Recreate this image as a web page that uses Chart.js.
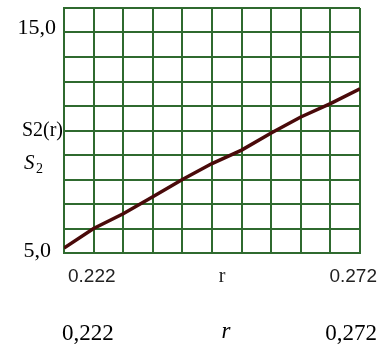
<!DOCTYPE html>
<html>
<head>
<meta charset="utf-8">
<script src="https://cdn.jsdelivr.net/npm/chart.js@4"></script>
<style>
  html, body { margin: 0; padding: 0; background: #fff; }
  #wrap { width: 379px; height: 349px; }
</style>
</head>
<body>
<div id="wrap"><canvas id="s2Chart" width="379" height="349"></canvas></div>
<script>
// Datos: S2 en función de r
const rValues = [0.222, 0.227, 0.232, 0.237, 0.242, 0.247, 0.252, 0.257, 0.262, 0.267, 0.272];
const s2Values = [5.2, 6.0, 6.6, 7.3, 8.0, 8.65, 9.2, 9.9, 10.55, 11.1, 11.7];

// Límites y rótulos de los ejes
const X_MIN = 0.222, X_MAX = 0.272, X_STEP = 0.005;
const Y_MIN = 5, Y_MAX = 15, Y_STEP = 1;
const yTickLabels = ['15,0', '5,0'];
const xTickLabels = ['0.222', '0.272'];
const xTickLabelsComma = ['0,222', '0,272'];

const GRID_COLOR = '#2f6a2f';
const LINE_COLOR = '#4a0a0a';

// Textos alrededor del área del gráfico
const labelsPlugin = {
    id: 'mathcadLabels',
    afterDraw(chart) {
        const ctx = chart.ctx;
        const x = chart.scales.x;
        const y = chart.scales.y;
        const left = x.getPixelForValue(X_MIN);
        const right = x.getPixelForValue(X_MAX);
        const top = y.getPixelForValue(Y_MAX);
        const bottom = y.getPixelForValue(Y_MIN);
        const mid = (left + right) / 2;

        ctx.save();
        ctx.fillStyle = '#000';
        ctx.textBaseline = 'middle';

        // Eje vertical
        ctx.font = '22px "Liberation Serif"';
        ctx.textAlign = 'right';
        ctx.fillText(yTickLabels[0], left - 8, top + 20);
        ctx.fillText(yTickLabels[1], left - 13, bottom - 2);

        ctx.font = '20px "Liberation Serif"';
        ctx.fillText('S2(r)', left - 1, top + 123);
        ctx.font = 'italic 21px "Liberation Serif"';
        ctx.textAlign = 'left';
        ctx.fillText('S', left - 40, top + 155);
        ctx.font = '14px "Liberation Serif"';
        ctx.fillText('2', left - 28, top + 161);

        // Rótulos del eje horizontal (primera fila)
        ctx.fillStyle = '#222';
        ctx.font = '19px "Liberation Sans"';
        ctx.textAlign = 'left';
        ctx.fillText(xTickLabels[0], left + 4, bottom + 24);
        ctx.textAlign = 'right';
        ctx.fillText(xTickLabels[1], right + 17, bottom + 24);
        ctx.textAlign = 'center';
        ctx.font = '20px "Liberation Serif"';
        ctx.fillText('r', mid + 10, bottom + 24);

        // Segunda fila
        ctx.fillStyle = '#000';
        ctx.font = '23px "Liberation Serif"';
        ctx.textAlign = 'left';
        ctx.fillText(xTickLabelsComma[0], left - 2, bottom + 81);
        ctx.textAlign = 'right';
        ctx.fillText(xTickLabelsComma[1], right + 17, bottom + 81);
        ctx.textAlign = 'center';
        ctx.font = 'italic 23px "Liberation Serif"';
        ctx.fillText('r', mid + 14, bottom + 79);
        ctx.restore();
    }
};

function initChart() {
    const ctx = document.getElementById('s2Chart').getContext('2d');
    new Chart(ctx, {
        type: 'line',
        data: {
            datasets: [{
                label: 'S2(r)',
                data: rValues.map((r, i) => ({ x: r, y: s2Values[i] })),
                borderColor: LINE_COLOR,
                borderWidth: 3.5,
                tension: 0,
                pointRadius: 0,
                fill: false
            }]
        },
        options: {
            responsive: false,
            devicePixelRatio: 1,
            animation: false,
            layout: { padding: { left: 64, right: 19, top: 8, bottom: 96 } },
            plugins: {
                legend: { display: false },
                tooltip: { enabled: false }
            },
            scales: {
                x: {
                    type: 'linear',
                    min: X_MIN,
                    max: X_MAX,
                    ticks: { display: false, stepSize: X_STEP },
                    grid: { color: GRID_COLOR, lineWidth: 2, drawTicks: false },
                    border: { display: true, color: GRID_COLOR, width: 2 }
                },
                y: {
                    min: Y_MIN,
                    max: Y_MAX,
                    ticks: { display: false, stepSize: Y_STEP },
                    grid: { color: GRID_COLOR, lineWidth: 2, drawTicks: false },
                    border: { display: true, color: GRID_COLOR, width: 2 }
                }
            }
        },
        plugins: [labelsPlugin]
    });
}

document.addEventListener('DOMContentLoaded', initChart);
</script>
</body>
</html>
